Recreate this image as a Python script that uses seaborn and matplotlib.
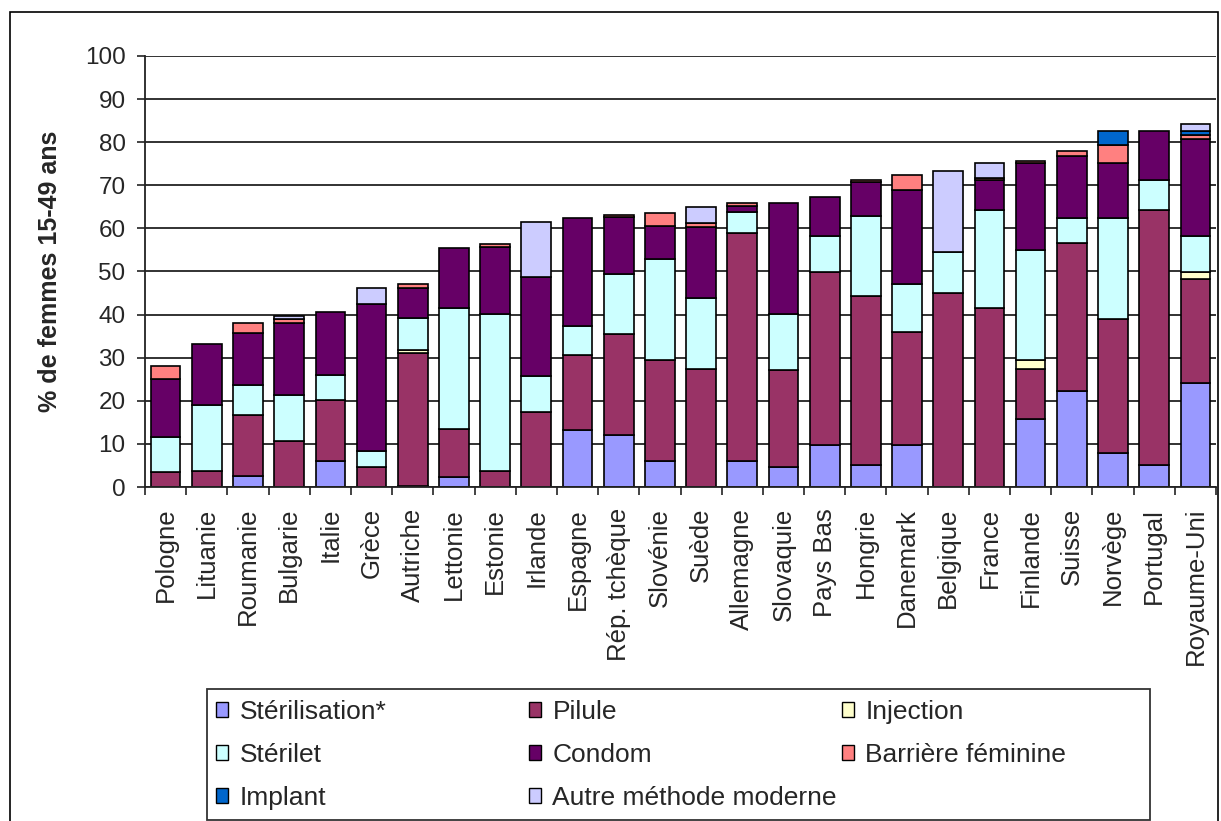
import numpy as np
import pandas as pd
import matplotlib
matplotlib.use("Agg")
import matplotlib.pyplot as plt
from matplotlib.patches import Patch, Rectangle
import seaborn as sns

countries = ["Pologne", "Lituanie", "Roumanie", "Bulgarie", "Italie", "Grèce", "Autriche",
             "Lettonie", "Estonie", "Irlande", "Espagne", "Rép. tchèque", "Slovénie", "Suède",
             "Allemagne", "Slovaquie", "Pays Bas", "Hongrie", "Danemark", "Belgique", "France",
             "Finlande", "Suisse", "Norvège", "Portugal", "Royaume-Uni"]

sterilisation = [0, 0, 2.6, 0, 6.0, 0, 0.3, 2.4, 0, 0, 13.3, 12.1, 6.0, 0, 6.0, 4.7, 9.7, 5.1,
                 9.7, 0, 0, 15.7, 22.3, 8.0, 5.0, 24.1]
pilule = [3.4, 3.7, 14.1, 10.6, 14.3, 4.6, 30.9, 11.1, 3.8, 17.4, 17.4, 23.4, 23.5, 27.4, 52.9,
          22.4, 40.2, 39.1, 26.2, 44.9, 41.5, 11.7, 34.2, 30.9, 59.3, 24.1]
injection = [0, 0, 0, 0, 0, 0, 0.6, 0, 0, 0, 0, 0, 0, 0, 0, 0, 0, 0, 0, 0, 0, 2.1, 0, 0, 0, 1.7]
sterilet = [8.3, 15.3, 7.0, 10.7, 5.7, 3.8, 7.3, 28.0, 36.3, 8.4, 6.7, 14.0, 23.3, 16.4, 4.9,
            13.0, 8.3, 18.7, 11.2, 9.6, 22.8, 25.6, 6.0, 23.4, 6.9, 8.3]
condom = [13.4, 14.2, 12.0, 16.8, 14.5, 34.1, 7.1, 14.0, 15.7, 23.0, 25.1, 13.1, 7.8, 16.6, 1.4,
          25.9, 9.1, 7.9, 21.8, 0, 6.9, 20.1, 14.4, 12.9, 11.5, 22.5]
barriere = [3.0, 0, 2.3, 0.8, 0, 0, 1.0, 0, 0.6, 0, 0, 0.4, 3.0, 0.9, 0.6, 0, 0, 0.4, 3.4, 0,
            0.5, 0.4, 1.0, 4.1, 0, 0.9]
implant = [0, 0, 0, 0, 0, 0, 0, 0, 0, 0, 0, 0, 0, 0, 0, 0, 0, 0, 0, 0, 0, 0, 0, 3.3, 0, 1.1]
autre = [0, 0, 0, 0.8, 0, 3.7, 0, 0, 0, 12.8, 0, 0, 0, 3.7, 0, 0, 0, 0, 0, 18.8, 3.5, 0, 0, 0,
         0, 1.6]

series_names = ["Stérilisation*", "Pilule", "Injection", "Stérilet", "Condom",
                "Barrière féminine", "Implant", "Autre méthode moderne"]
series_values = [sterilisation, pilule, injection, sterilet, condom, barriere, implant, autre]
series_colors = ["#9999FF", "#993366", "#FFFFCC", "#CCFFFF", "#660066", "#FF8080",
                 "#0066CC", "#CCCCFF"]
yticks = [0, 10, 20, 30, 40, 50, 60, 70, 80, 90, 100]

sns.set_style("white")
plt.rcParams["font.family"] = ["Liberation Sans", "DejaVu Sans"]

W, H = 1221, 821
fig = plt.figure(figsize=(W / 100, H / 100), dpi=100)
ax = fig.add_axes([145 / W, 1 - 487 / H, (1216 - 145) / W, (487 - 56) / H])

df = pd.DataFrame({"pays": countries})
bottom = np.zeros(len(countries))
for name, vals, col in zip(series_names, series_values, series_colors):
    v = np.array(vals, dtype=float)
    df["val"] = v
    n_before = len(ax.patches)
    sns.barplot(data=df, x="pays", y="val", color=col, bottom=bottom, width=0.72,
                edgecolor="black", linewidth=1.2, errorbar=None, ax=ax, saturation=1)
    for p in ax.patches[n_before:]:
        if p.get_height() <= 0:
            p.set_visible(False)
    bottom = bottom + v

ax.set_ylim(0, 100)
ax.set_xlim(-0.5, len(countries) - 0.5)
ax.set_yticks(yticks)
ax.yaxis.grid(True, color="#222222", linewidth=1.3)
ax.xaxis.grid(False)
ax.set_axisbelow(True)
for s in ["top", "right"]:
    ax.spines[s].set_visible(False)
for s in ["left", "bottom"]:
    ax.spines[s].set_color("#222222")
    ax.spines[s].set_linewidth(1.3)

ax.set_xlabel("")
ax.set_ylabel("% de femmes 15-49 ans", fontsize=18, fontweight="bold")
ax.yaxis.set_label_coords((62 - 145) / (1216 - 145), 0.5)
ax.tick_params(axis="y", direction="out", length=6, width=1.2, color="#222222",
               labelsize=17.5, pad=8, left=True)
ax.tick_params(axis="x", which="major", length=0, pad=15, labelsize=18.5, labelrotation=90)
ax.set_xticks(np.arange(-0.5, len(countries), 1.0), minor=True)
ax.tick_params(axis="x", which="minor", direction="out", length=6, width=1.2,
               color="#222222", bottom=True)
for lab in ax.get_xticklabels():
    lab.set_verticalalignment("top")
    lab.set_horizontalalignment("center")

# outer chart frame
fig.add_artist(Rectangle((10 / W, -0.02), (1218 - 10) / W, (H - 12) / H + 0.02,
                         transform=fig.transFigure, fill=False, edgecolor="black",
                         linewidth=1.2))
# legend frame
fig.add_artist(Rectangle((207 / W, 1 - 820 / H), (1150 - 207) / W, (820 - 689) / H,
                         transform=fig.transFigure, fill=False, edgecolor="#333333",
                         linewidth=1.3))

handles = [Patch(facecolor=c, edgecolor="black", linewidth=1.0) for c in series_colors]
cols = [[0, 3, 6], [1, 4, 7], [2, 5]]
col_x = [216, 529, 842]
for idx, cx in zip(cols, col_x):
    leg = fig.legend([handles[i] for i in idx], [series_names[i] for i in idx],
                     loc="upper left", bbox_to_anchor=(cx / W, 1 - 700 / H),
                     frameon=False, borderpad=0, borderaxespad=0, fontsize=19,
                     handlelength=0.47, handleheight=0.47, handletextpad=0.42,
                     labelspacing=0.72)

fig.savefig("out.png", dpi=100)
